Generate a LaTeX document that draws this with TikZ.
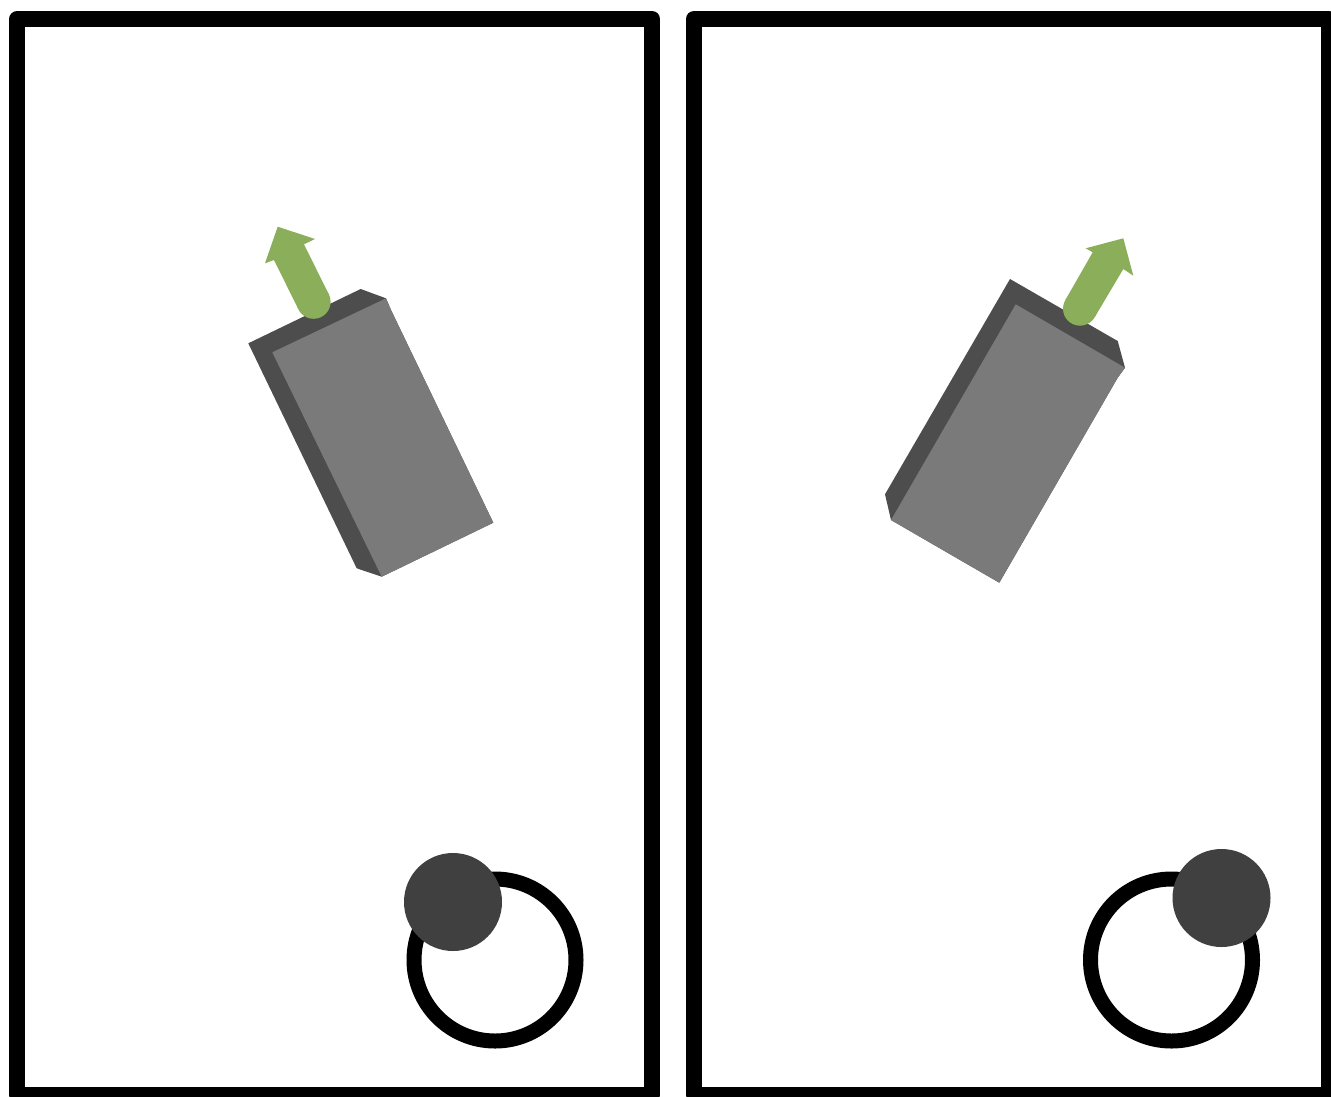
\documentclass[tikz,border=0pt]{standalone}
\definecolor{darkface}{HTML}{4D4D4D}
\definecolor{lightface}{HTML}{7A7A7A}
\definecolor{arrowgreen}{HTML}{8AAE5A}
\definecolor{knob}{HTML}{404040}
\tikzset{
  framebox/.style={draw=black,line width=16pt,line join=round,fill=white},
  ring/.style={draw=black,line width=15pt,fill=none},
  knobdot/.style={fill=knob},
  sideface/.style={fill=darkface},
  frontface/.style={fill=lightface},
  dirarrow/.style={fill=arrowgreen}
}
\begin{document}
\begin{tikzpicture}[x=1pt,y=-1pt]
\useasboundingbox (0,0) rectangle (1331,1096);
\clip (0,0) rectangle (1331,1096);
\fill[white] (0,0) rectangle (1331,1096);
% frames
\draw[framebox] (17.2,19) rectangle (652,1095);
\draw[framebox] (694,19) rectangle (1329,1095);
% left block
\fill[sideface] (248.3,343.3) -- (360.7,289) -- (386,298.3) -- (391,310) -- (493.3,522.7) -- (381.7,576.7) -- (356.7,568.3) -- cycle;
\fill[frontface] (272.3,352.3) -- (386,298.3) -- (391,310) -- (493.3,522.7) -- (381.7,576.7) -- cycle;
% left arrow
\fill[dirarrow] (277.7,226.7) -- (315,239) -- (304,244.3) -- (328.8,294.3) -- (298.4,309.3) -- (274,260) -- (265,263.3) -- cycle;
\fill[dirarrow] (313.6,301.8) circle[radius=17];
% right block
\fill[sideface] (1010,279) -- (1117.7,341) -- (1125,367.7) -- (1117.5,378) -- (999.3,582.7) -- (891,520) -- (885,494.3) -- cycle;
\fill[frontface] (1015.7,304.3) -- (1125,367.7) -- (1117.5,378) -- (999.3,582.7) -- (891,520) -- cycle;
% right arrow
\fill[dirarrow] (1123.3,238.3) -- (1133.3,275.7) -- (1123.3,269) -- (1094.7,317.2) -- (1065.3,300.1) -- (1092.7,252.3) -- (1085.7,248.3) -- cycle;
\fill[dirarrow] (1080,308.7) circle[radius=17];
% dials
\draw[ring] (495,960) circle[radius=81];
\fill[knobdot] (453,902) circle[radius=49];
\draw[ring] (1171.5,960) circle[radius=81];
\fill[knobdot] (1221.5,898) circle[radius=49];
\end{tikzpicture}
\end{document}
